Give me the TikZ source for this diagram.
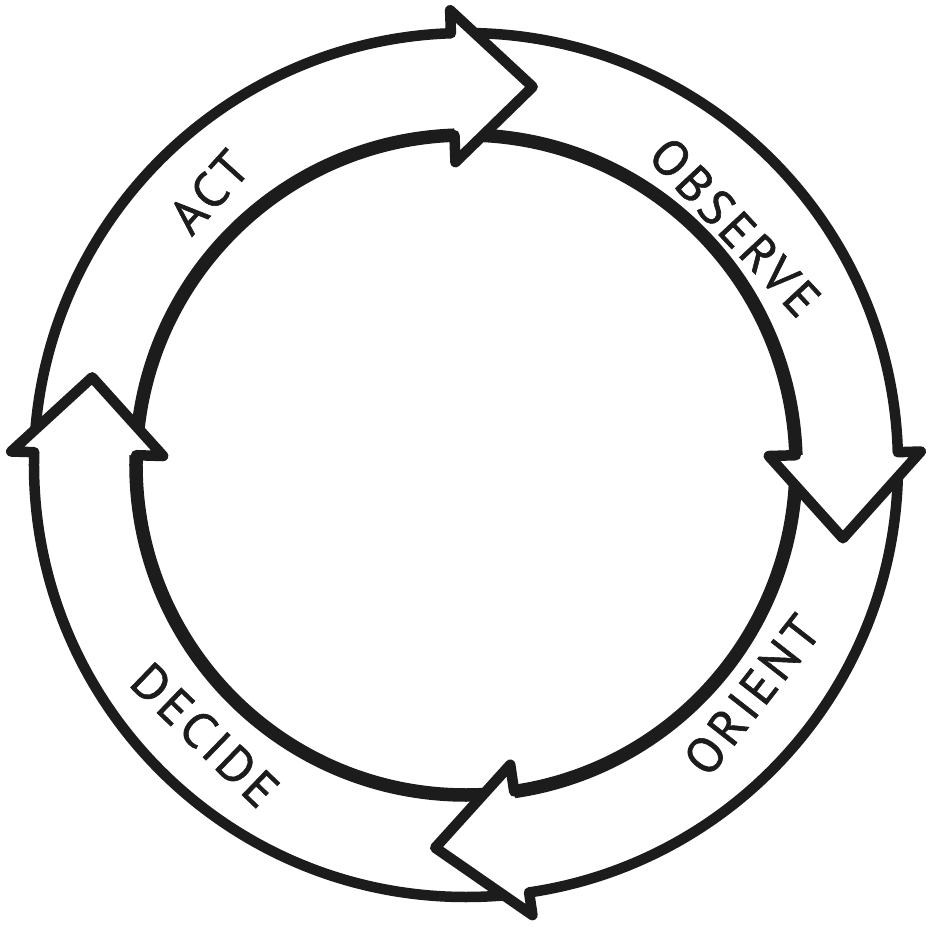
\documentclass[tikz,border=0pt]{standalone}
\usepackage{fontspec}
\setmainfont[LetterSpace=8,FakeBold=1.2]{PT Sans}
\definecolor{ink}{HTML}{1C1C1C}
\begin{document}
\begin{tikzpicture}[x=1bp,y=1bp,
  outerline/.style={line width=10.5bp, draw=ink},
  innerline/.style={line width=13.5bp, draw=ink},
  headline/.style={line width=10.5bp, draw=ink, line join=round, line cap=round},
  lbl/.style={font=\fontsize{50}{50}\selectfont, text=ink, inner sep=0pt}]
\useasboundingbox[fill=white] (-466bp,-462bp) rectangle (462bp,465bp);
\coordinate (c) at (0,0);
\draw[outerline] (c) circle[radius=432bp];
\draw[innerline] (c) circle[radius=330bp];
\foreach \b/\t in {92/80, 1.7/-11, -81.6/-94.6, 178.3/166.8} {
  \fill[white] (\b:455bp) -- (\t:384bp) -- (\b:303bp) -- cycle;
  \draw[headline] (\b:432bp) -- (\b:455bp) -- (\t:384bp) -- (\b:303bp) -- (\b:330bp);
}
\node[lbl, rotate=-47] (observe) at (269bp,238bp) {OBSERVE};
\node[lbl, rotate=52] (orient) at (286bp,-230bp) {ORIENT};
\node[lbl, rotate=-44] (decide) at (-261bp,-270bp) {DECIDE};
\node[lbl, rotate=48] (act) at (-257bp,273bp) {ACT};
\end{tikzpicture}
\end{document}
